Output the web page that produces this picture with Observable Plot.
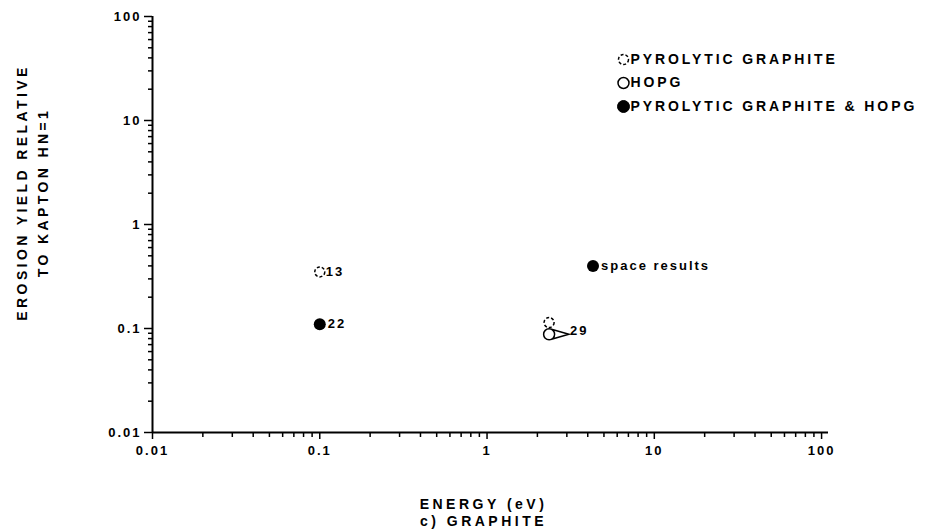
<!DOCTYPE html>
<html><head><meta charset="utf-8">
<script src="https://cdn.jsdelivr.net/npm/d3@7"></script>
<script src="https://cdn.jsdelivr.net/npm/@observablehq/plot@0.6"></script>
<style>
body{margin:0;background:#fff}
svg text{letter-spacing:2px}
</style></head><body><div id="chart"></div>
<script>
// ---- data ----
const xTicks = [0.01, 0.1, 1, 10, 100];
const xTickLabels = ["0.01", "0.1", "1", "10", "100"];
const yTicks = [0.01, 0.1, 1, 10, 100];
const yTickLabels = ["0.01", "0.1", "1", "10", "100"];

// Pyrolytic graphite (dashed open circles)
const pgEnergy = [0.1, 2.35];
const pgYield = [0.35, 0.114];
const pgLabel = ["13", ""];
// HOPG (open circle)
const hopgEnergy = [2.35];
const hopgYield = [0.088];
const hopgLabel = ["29"];
// Pyrolytic graphite & HOPG (filled)
const bothEnergy = [0.1, 4.3];
const bothYield = [0.11, 0.40];
const bothLabel = ["22", "space results"];

const legendLabels = ["PYROLYTIC GRAPHITE", "HOPG", "PYROLYTIC GRAPHITE & HOPG"];
const yTitle = ["EROSION YIELD RELATIVE", "TO KAPTON HN=1"];
const xTitle = ["ENERGY (eV)", "c) GRAPHITE"];

// ---- build ----
const pg = pgEnergy.map((e, i) => ({e, y: pgYield[i], label: pgLabel[i]}));
const hopg = hopgEnergy.map((e, i) => ({e, y: hopgYield[i], label: hopgLabel[i]}));
const both = bothEnergy.map((e, i) => ({e, y: bothYield[i], label: bothLabel[i]}));

const minor = [];
for (const base of [0.01, 0.1, 1, 10]) for (let k = 2; k <= 9; k++) minor.push(+(base * k).toPrecision(3));

const xFmt = d => xTickLabels[xTicks.indexOf(d)];
const yFmt = d => yTickLabels[yTicks.indexOf(d)];

// circle with a pointer toward the label
const pointer = {
  draw(ctx, size) {
    const r = Math.sqrt(size / Math.PI);
    const L = 3.6 * r;
    const a = Math.acos(r / L);
    ctx.moveTo(r, 0);
    ctx.arc(0, 0, r, 0, 2 * Math.PI);
    ctx.moveTo(r * Math.cos(a), -r * Math.sin(a));
    ctx.lineTo(L, 0);
    ctx.lineTo(r * Math.cos(a), r * Math.sin(a));
  }
};

const legendStyles = [
  {fill: "white", stroke: "black", strokeDasharray: "3,2", strokeWidth: 1.5, r: 5},
  {fill: "white", stroke: "black", strokeWidth: 1.5, r: 5.5},
  {fill: "black", stroke: "black", strokeWidth: 1, r: 6}
];
const legendMarks = legendLabels.flatMap((lab, i) => [
  Plot.dot([lab], {frameAnchor: "top-left", dx: 471, dy: 43 + i * 23.5, ...legendStyles[i]}),
  Plot.text([lab], {frameAnchor: "top-left", dx: 478, dy: 43 + i * 23.5, text: d => d, textAnchor: "start",
    lineAnchor: "middle", fontSize: 14, fontWeight: "bold"})
]);

const chart = Plot.plot({
  width: 926, height: 532,
  marginLeft: 152, marginRight: 98, marginTop: 16, marginBottom: 100,
  x: {type: "log", domain: [0.01, 110]},
  y: {type: "log", domain: [0.01, 100]},
  style: {fontFamily: "'Liberation Sans', Arial, sans-serif", fontWeight: "bold", background: "white", color: "black", fontSize: "12px"},
  marks: [
    Plot.axisX(minor, {tickSize: 5, tickFormat: () => "", label: null, strokeWidth: 1.5}),
    Plot.axisY(minor, {tickSize: 4, tickFormat: () => "", label: null, strokeWidth: 1.5}),
    Plot.axisX(xTicks, {tickSize: 7, tickPadding: 6, tickFormat: xFmt, label: null, strokeWidth: 1.5, fontSize: 13, fontWeight: "bold"}),
    Plot.axisY(yTicks, {tickSize: 8, tickPadding: 3, tickFormat: yFmt, label: null, strokeWidth: 1.5, fontSize: 13, fontWeight: "bold"}),
    Plot.ruleY([0.01], {strokeWidth: 2}),
    Plot.ruleX([0.01], {strokeWidth: 2}),
    // data points
    Plot.dot(pg, {x: "e", y: "y", r: 5, fill: "white", stroke: "black", strokeWidth: 1.5, strokeDasharray: "3,2"}),
    Plot.dot(hopg, {x: "e", y: "y", r: 5.5, fill: "none", stroke: "black", strokeWidth: 1.5, symbol: pointer}),
    Plot.dot(both, {x: "e", y: "y", r: 6, fill: "black"}),
    Plot.text(pg, {x: "e", y: "y", text: "label", dx: 6, textAnchor: "start", fontSize: 13, fontWeight: "bold"}),
    Plot.text(hopg, {x: "e", y: "y", text: "label", dx: 21, dy: -3, textAnchor: "start", fontSize: 13, fontWeight: "bold"}),
    Plot.text(both, {x: "e", y: "y", text: "label", dx: 8, textAnchor: "start", fontSize: 13, fontWeight: "bold"}),
    // axis titles
    Plot.text([yTitle.join("\n")], {frameAnchor: "left", dx: -122, dy: -32, rotate: -90, text: d => d,
      textAnchor: "middle", lineAnchor: "middle", lineHeight: 1.55, fontSize: 14, fontWeight: "bold"}),
    Plot.text([xTitle.join("\n")], {frameAnchor: "bottom", dx: -7, dy: 80, text: d => d,
      textAnchor: "middle", lineAnchor: "middle", lineHeight: 1.2, fontSize: 14, fontWeight: "bold"}),
    ...legendMarks
  ]
});
// wider letter spacing on titles and legend, as in the reference lettering
const spacing = new Map([
  ...legendLabels.map(l => [l, "2.9px"]),
  [yTitle.join(""), "3.4px"],
  [xTitle.join(""), "3.5px"]
]);
chart.querySelectorAll("text").forEach(t => {
  const s = spacing.get(t.textContent);
  if (s) t.style.letterSpacing = s;
});
document.getElementById("chart").appendChild(chart);
</script></body></html>
